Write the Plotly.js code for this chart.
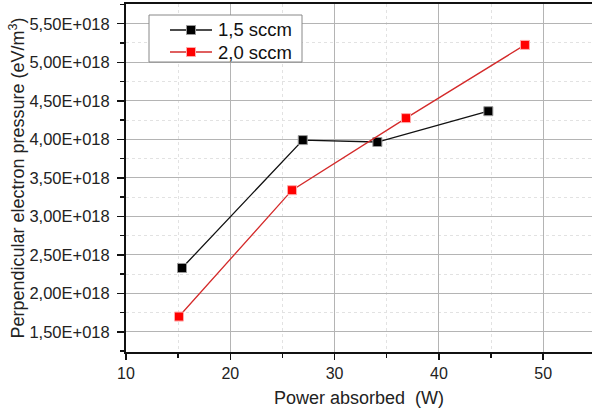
<!DOCTYPE html>
<html>
<head>
<meta charset="utf-8">
<script src="https://cdn.plot.ly/plotly-3.0.1.min.js"></script>
<style>html,body{margin:0;padding:0;background:#fff;}#chart{width:592px;height:413px;}</style>
</head>
<body>
<div id="chart"></div>
<script>
// Data
const seriesNames = ["1,5 sccm", "2,0 sccm"];
const power15 = [15.37, 26.95, 34.1, 44.74];
const pressure15 = [2.33e18, 3.99e18, 3.965e18, 4.365e18];
const power20 = [15.08, 25.92, 36.85, 48.25];
const pressure20 = [1.70e18, 3.34e18, 4.275e18, 5.225e18];

const xTickVals = [10, 20, 30, 40, 50];
const yTickVals = [1.5e18, 2.0e18, 2.5e18, 3.0e18, 3.5e18, 4.0e18, 4.5e18, 5.0e18, 5.5e18];
const yTickText = ["1,50E+018", "2,00E+018", "2,50E+018", "3,00E+018", "3,50E+018", "4,00E+018", "4,50E+018", "5,00E+018", "5,50E+018"];

const FONT = "Arial, 'Liberation Sans', sans-serif";
const lineColors = ["#111111", "#d42a2a"];
const markerColors = ["#000000", "#ff0000"];
const markerEdges = ["#999999", "#ffaaaa"];

const traces = [
  {
    x: power15, y: pressure15, name: seriesNames[0], type: "scatter", mode: "lines+markers",
    line: {color: lineColors[0], width: 1.3},
    marker: {symbol: "square", size: 9, color: markerColors[0], line: {color: markerEdges[0], width: 1}}
  },
  {
    x: power20, y: pressure20, name: seriesNames[1], type: "scatter", mode: "lines+markers",
    line: {color: lineColors[1], width: 1.3},
    marker: {symbol: "square", size: 9, color: markerColors[1], line: {color: markerEdges[1], width: 1}}
  }
];

// Legend drawn in paper coordinates (plot area: 126..592 px wide, 4..352 px tall)
const PL = 126, PW = 466, PT = 4, PH = 348;
const px = v => (v - PL) / PW;
const py = v => 1 - (v - PT) / PH;
const legendRows = [30, 52];
const shapes = [
  {type: "rect", xref: "paper", yref: "paper", x0: px(149), x1: px(302), y0: py(62), y1: py(15),
   line: {color: "#888888", width: 1}, fillcolor: "#ffffff", layer: "above"}
];
const annotations = [];
seriesNames.forEach((name, i) => {
  const yy = py(legendRows[i]);
  shapes.push({type: "line", xref: "paper", yref: "paper", x0: px(170), x1: px(212), y0: yy, y1: yy,
               line: {color: lineColors[i], width: 1.3}, layer: "above"});
  shapes.push({type: "rect", xref: "paper", yref: "paper", xsizemode: "pixel", ysizemode: "pixel",
               xanchor: px(191), yanchor: yy, x0: -4.5, x1: 4.5, y0: -4.5, y1: 4.5,
               fillcolor: markerColors[i], line: {color: markerEdges[i], width: 1}, layer: "above"});
  annotations.push({xref: "paper", yref: "paper", x: px(216), y: yy, xanchor: "left", yanchor: "middle",
                    text: name, showarrow: false, font: {family: FONT, size: 18.5, color: "#111111"}});
});

const layout = {
  width: 592, height: 413,
  margin: {l: 126, r: 0, t: 4, b: 61},
  paper_bgcolor: "#ffffff", plot_bgcolor: "#ffffff",
  font: {family: FONT, color: "#222222"},
  showlegend: false,
  shapes: shapes,
  annotations: annotations,
  xaxis: {
    range: [10, 54.68],
    tickmode: "array", tickvals: xTickVals,
    ticks: "outside", ticklen: 6, tickwidth: 1.5, tickcolor: "#111",
    tickfont: {family: FONT, size: 16, color: "#222"},
    showline: true, linecolor: "#111", linewidth: 2, mirror: true,
    showgrid: true, gridcolor: "#b4b4b4", gridwidth: 1,
    zeroline: false,
    minor: {tickmode: "linear", tick0: 15, dtick: 10, ticks: "outside", ticklen: 4, tickwidth: 1.5, tickcolor: "#111",
            showgrid: true, gridcolor: "#e2e2e2", griddash: "dot", gridwidth: 1},
    title: {text: "Power absorbed\u00a0\u00a0(W)", font: {family: FONT, size: 18, color: "#222"}, standoff: 10}
  },
  yaxis: {
    range: [1.24e18, 5.756e18],
    tickmode: "array", tickvals: yTickVals, ticktext: yTickText,
    ticks: "outside", ticklen: 7, tickwidth: 1.5, tickcolor: "#111",
    ticklabelstandoff: 4,
    tickfont: {family: FONT, size: 16.5, color: "#222"},
    showline: true, linecolor: "#111", linewidth: 2, mirror: false,
    showgrid: true, gridcolor: "#b4b4b4", gridwidth: 1,
    zeroline: false,
    minor: {tickmode: "linear", tick0: 1.25e18, dtick: 0.5e18, ticks: "outside", ticklen: 4, tickwidth: 1.5, tickcolor: "#111",
            showgrid: true, gridcolor: "#e2e2e2", griddash: "dot", gridwidth: 1},
    title: {text: "Perpendicular electron pressure (eV/m<sup>3</sup>)", font: {family: FONT, size: 18, color: "#222"}, standoff: 0}
  }
};

Plotly.newPlot("chart", traces, layout, {staticPlot: true, displayModeBar: false});
</script>
</body>
</html>
